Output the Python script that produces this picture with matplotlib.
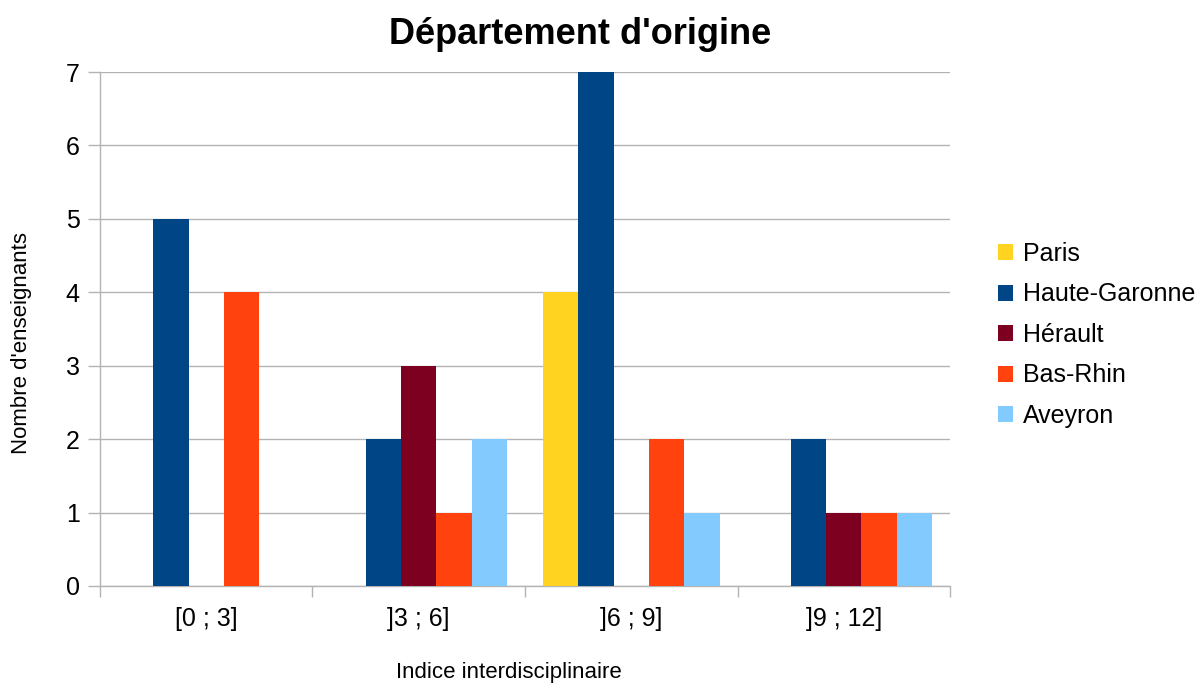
import numpy as np
import matplotlib
matplotlib.use('Agg')
import matplotlib.pyplot as plt

plt.rcParams['font.family'] = ['Liberation Sans', 'DejaVu Sans']

# Data
categories = ['[0 ; 3]', ']3 ; 6]', ']6 ; 9]', ']9 ; 12]']
series = ['Paris', 'Haute-Garonne', 'Hérault', 'Bas-Rhin', 'Aveyron']
paris = [0, 0, 4, 0]
haute_garonne = [5, 2, 7, 2]
herault = [0, 3, 0, 1]
bas_rhin = [4, 1, 2, 1]
aveyron = [0, 2, 1, 1]
values = [paris, haute_garonne, herault, bas_rhin, aveyron]
colors = ['#ffd320', '#004586', '#7e0021', '#ff420e', '#83caff']

fig = plt.figure(figsize=(12, 6.84), dpi=100)
ax = fig.add_axes([0.0833, 0.1433, 0.7084, 0.7514])

x = np.arange(len(categories))
w = 1 / 6
for i, (name, vals) in enumerate(zip(series, values)):
    ax.bar(x + (i - 2) * w, vals, width=w, color=colors[i], label=name, zorder=3)

ax.set_xlim(-0.5, len(categories) - 0.5)
ax.set_ylim(0, 7)
ax.set_yticks(range(8))
ax.yaxis.grid(True, color='#b3b3b3', linewidth=1, zorder=0)

ax.set_xticks(x)
ax.set_xticklabels(categories)
ax.set_xticks(np.arange(len(categories) + 1) - 0.5, minor=True)
ax.tick_params(axis='x', which='major', length=0, pad=15, labelsize=18)
ax.tick_params(axis='x', which='minor', length=8, color='#b3b3b3', width=1)
ax.tick_params(axis='y', length=8.5, color='#b3b3b3', width=1, labelsize=18, pad=6)

for s in ['top', 'right']:
    ax.spines[s].set_visible(False)
for s in ['left', 'bottom']:
    ax.spines[s].set_color('#b3b3b3')
    ax.spines[s].set_linewidth(1)

fig.text(580 / 1200, 1 - 35 / 684, "Département d'origine", fontsize=26,
         fontweight='bold', ha='center', va='center')

ax.set_xlabel('Indice interdisciplinaire', fontsize=16, va='center')
ax.xaxis.set_label_coords(0.481, -0.169)
ax.set_ylabel("Nombre d'enseignants", fontsize=16, va='center')
ax.yaxis.set_label_coords(-0.092, 0.473)

ax.legend(loc='center left', bbox_to_anchor=(998 / 1200, 1 - 335 / 684),
          bbox_transform=fig.transFigure, frameon=False, fontsize=18,
          handlelength=0.6, handleheight=0.6, handletextpad=0.4,
          labelspacing=0.66, borderaxespad=0, borderpad=0)

fig.savefig('out.png', dpi=100)
